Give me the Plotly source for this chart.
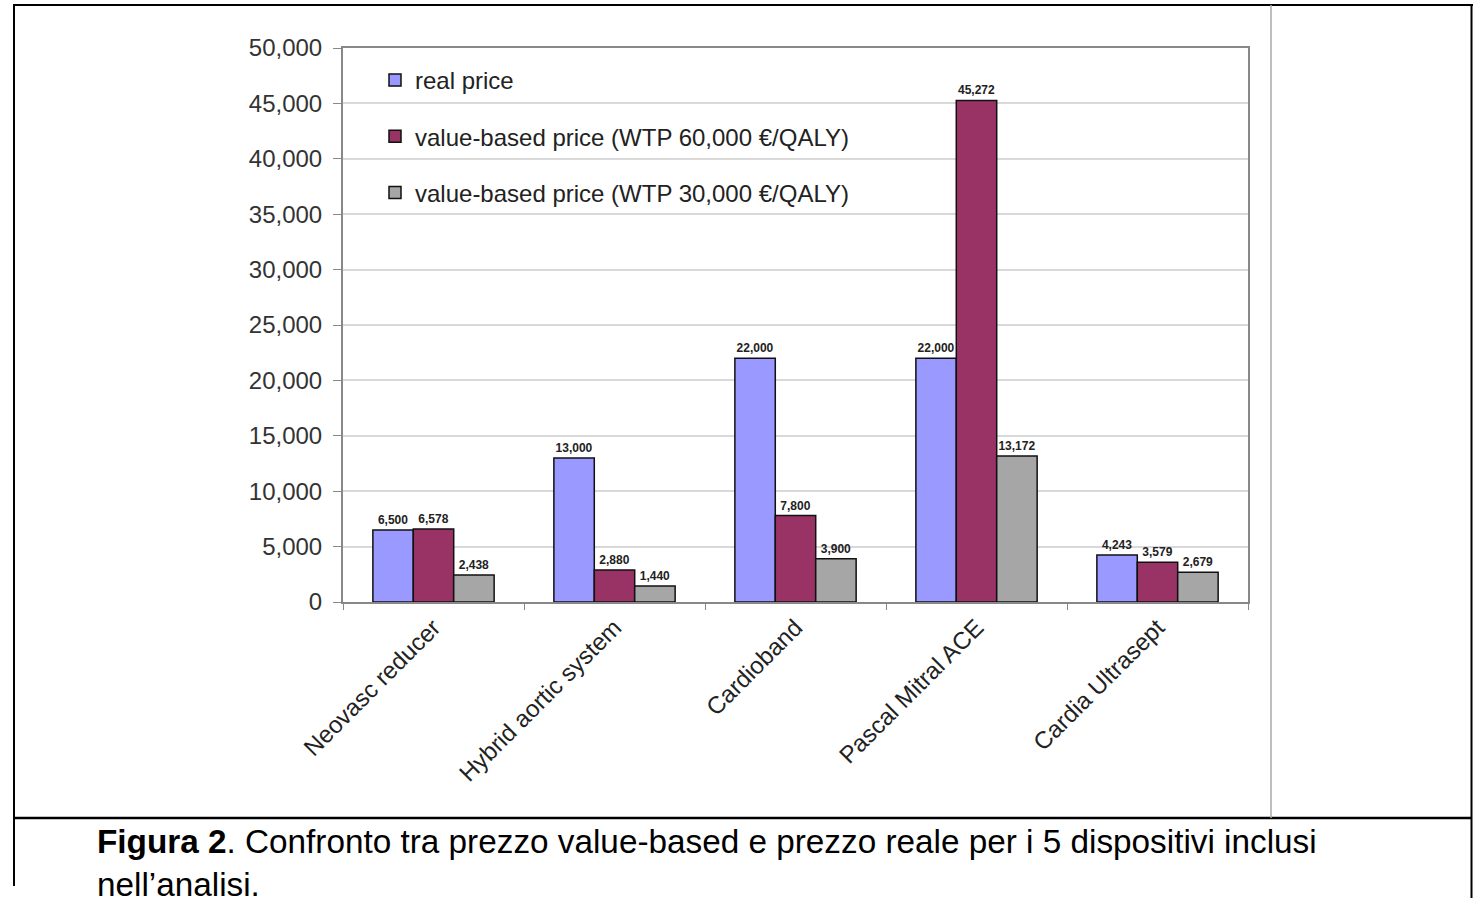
import plotly.graph_objects as go

categories = ["Neovasc reducer", "Hybrid aortic system", "Cardioband", "Pascal Mitral ACE", "Cardia Ultrasept"]
real_price = [6500, 13000, 22000, 22000, 4243]
wtp60 = [6578, 2880, 7800, 45272, 3579]
wtp30 = [2438, 1440, 3900, 13172, 2679]
series_names = ["real price", "value-based price (WTP 60,000 €/QALY)", "value-based price (WTP 30,000 €/QALY)"]
series_colors = ["#9999FF", "#993366", "#A6A6A6"]

W, H = 1473, 898
L, R, T, B = 343, 1248, 48, 602  # plot area in window pixels


def px(X):
    return (X - L) / (R - L)


def py(Y):
    return (B - Y) / (B - T)


fig = go.Figure()
for i, (name, vals, col) in enumerate(zip(series_names, [real_price, wtp60, wtp30], series_colors)):
    fig.add_trace(go.Bar(
        x=categories, y=vals, name=name, legendgroup=f"g{i}",
        marker=dict(color=col, line=dict(color="#111111", width=1.5)),
        texttemplate="<b>%{y:,}</b>", textposition="outside",
        textfont=dict(size=12, color="#222222", family="Liberation Sans"),
        cliponaxis=False, constraintext="none",
    ))

shapes = []
def line(x0, y0, x1, y1, color="#000000", width=2):
    shapes.append(dict(type="line", xref="paper", yref="paper",
                       x0=px(x0), y0=py(y0), x1=px(x1), y1=py(y1),
                       line=dict(color=color, width=width)))

line(13, 5, 1473, 5)
line(14, 5, 14, 886)
line(1471.5, 5, 1471.5, 898)
line(14, 818, 1472, 818, width=2.5)
line(1271, 5, 1271, 818, color="#AAAAAA", width=1.5)

fig.update_layout(
    width=W, height=H,
    margin=dict(l=L, r=W - R, t=T, b=H - B),
    paper_bgcolor="white", plot_bgcolor="white",
    font=dict(family="Liberation Sans", color="#222222"),
    barmode="group", bargap=0.33, bargroupgap=0,
    showlegend=True,
    legend=dict(x=px(375), y=py(58), xanchor="left", yanchor="top",
                bgcolor="rgba(0,0,0,0)", font=dict(size=24, color="#222222"),
                traceorder="grouped", tracegroupgap=22),
    shapes=shapes,
    annotations=[dict(
        xref="paper", yref="paper", x=px(95), y=py(821), xanchor="left", yanchor="top",
        align="left", showarrow=False,
        text="<b>Figura 2</b>. Confronto tra prezzo value-based e prezzo reale per i 5 dispositivi inclusi<br>nell’analisi.",
        font=dict(size=33.3, color="#000000", family="Liberation Sans"),
    )],
)
fig.update_yaxes(range=[0, 50000], dtick=5000, tickformat=",",
                 showgrid=True, gridcolor="#D9D9D9", gridwidth=1.5,
                 showline=True, linecolor="#888888", linewidth=2, mirror=True,
                 ticks="outside", ticklen=8, tickcolor="#888888", ticklabelstandoff=6,
                 tickfont=dict(size=24, color="#333333"), zeroline=False)
fig.update_xaxes(showline=True, linecolor="#888888", linewidth=2, mirror=True,
                 ticks="outside", tickson="boundaries", ticklen=6, tickcolor="#888888",
                 tickangle=-45, tickfont=dict(size=24, color="#222222"))

fig.write_html("out.html", config={"displayModeBar": False},
               post_script="document.body.style.margin='0';document.body.style.overflow='hidden';")
